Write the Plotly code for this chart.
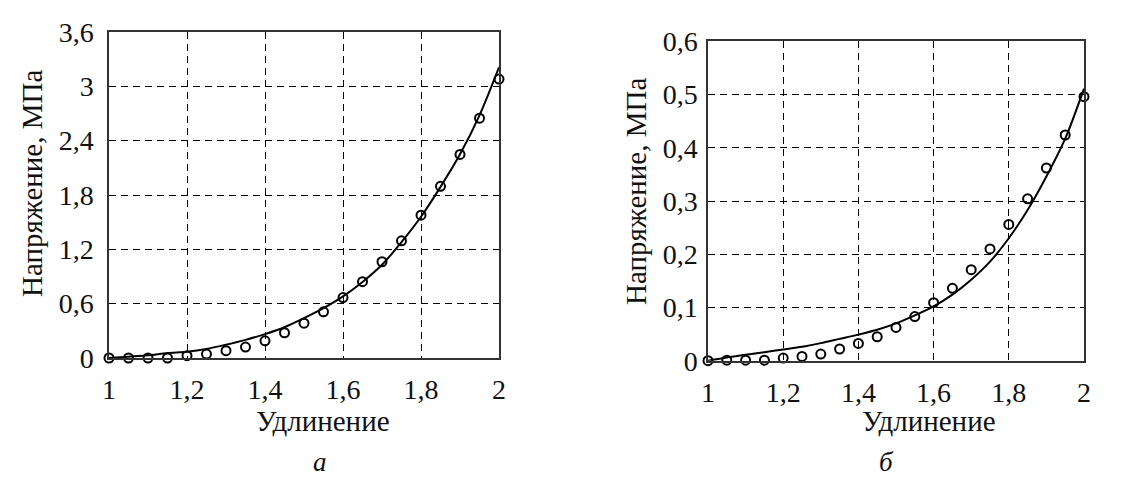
import plotly.graph_objects as go

# ---------- data ----------
elong = [1.00, 1.05, 1.10, 1.15, 1.20, 1.25, 1.30, 1.35, 1.40, 1.45, 1.50,
         1.55, 1.60, 1.65, 1.70, 1.75, 1.80, 1.85, 1.90, 1.95, 2.00]

# panel a
stress_a_exp = [0.0, 0.0, 0.0, 0.0, 0.026, 0.044, 0.081, 0.121, 0.19, 0.279, 0.385,
                0.51, 0.667, 0.843, 1.063, 1.294, 1.577, 1.896, 2.248, 2.648, 3.08]
stress_a_fit = [0.0, 0.015, 0.03, 0.055, 0.07, 0.10, 0.147, 0.20, 0.264, 0.34, 0.44,
                0.55, 0.68, 0.84, 1.03, 1.28, 1.56, 1.89, 2.25, 2.68, 3.21]

# panel b
stress_b_exp = [0.0, 0.001, 0.001, 0.001, 0.005, 0.008, 0.0125, 0.022, 0.0325, 0.045, 0.0625,
                0.083, 0.109, 0.136, 0.171, 0.21, 0.256, 0.304, 0.362, 0.424, 0.496]
stress_b_fit = [0.0, 0.006, 0.011, 0.016, 0.021, 0.026, 0.033, 0.041, 0.049, 0.058, 0.07,
                0.085, 0.102, 0.124, 0.152, 0.186, 0.23, 0.283, 0.346, 0.417, 0.511]

x_ticks = [1, 1.2, 1.4, 1.6, 1.8, 2]
x_ticktext = ["1", "1,2", "1,4", "1,6", "1,8", "2"]
ya_ticks = [0, 0.6, 1.2, 1.8, 2.4, 3, 3.6]
ya_ticktext = ["0", "0,6", "1,2", "1,8", "2,4", "3", "3,6"]
yb_ticks = [0, 0.1, 0.2, 0.3, 0.4, 0.5, 0.6]
yb_ticktext = ["0", "0,1", "0,2", "0,3", "0,4", "0,5", "0,6"]

FONT = "Liberation Serif"
W, H = 1123, 477

fig = go.Figure()

for xa, ya, fit, exp in (("x", "y", stress_a_fit, stress_a_exp),
                         ("x2", "y2", stress_b_fit, stress_b_exp)):
    fig.add_trace(go.Scatter(
        x=elong, y=fit, xaxis=xa, yaxis=ya, mode="lines",
        line=dict(color="black", width=2, shape="spline", smoothing=0.8),
        cliponaxis=False, showlegend=False,
    ))
    fig.add_trace(go.Scatter(
        x=elong, y=exp, xaxis=xa, yaxis=ya, mode="markers",
        marker=dict(symbol="circle-open", size=9, color="black",
                    line=dict(color="black", width=2)),
        cliponaxis=False, showlegend=False,
    ))

axis_common = dict(
    showgrid=True, gridcolor="black", griddash="7px,5px", gridwidth=1,
    zeroline=False, showline=True, linecolor="#333", linewidth=1.5,
    mirror=True, ticks="", automargin=False,
    tickfont=dict(family=FONT, size=28, color="#111"),
)

def px_x(p):
    return p / W

def px_y(p):
    return 1 - p / H

fig.update_layout(
    template="none",
    width=W, height=H,
    margin=dict(l=0, r=0, t=0, b=0),
    paper_bgcolor="white", plot_bgcolor="white",
    font=dict(family=FONT),
    xaxis=dict(axis_common, domain=[px_x(101), px_x(491)], range=[1, 2],
               tickvals=x_ticks, ticktext=x_ticktext, anchor="y",
               ticklabelstandoff=6),
    yaxis=dict(axis_common, domain=[px_y(350), px_y(24)], range=[0, 3.6],
               tickvals=ya_ticks, ticktext=ya_ticktext, anchor="x",
               ticklabelstandoff=8),
    xaxis2=dict(axis_common, domain=[px_x(700), px_x(1076)], range=[1, 2],
                tickvals=x_ticks, ticktext=x_ticktext, anchor="y2",
                ticklabelstandoff=6),
    yaxis2=dict(axis_common, domain=[px_y(352.7), px_y(33.3)], range=[0, 0.6],
                tickvals=yb_ticks, ticktext=yb_ticktext, anchor="x2",
                ticklabelstandoff=3),
)

labels = [
    ("Удлинение", 315, 413, 0, False, 29),
    ("Удлинение", 921, 413, 0, False, 29),
    ("Напряжение, МПа", 24, 176, -90, False, 29),
    ("Напряжение, МПа", 628, 184, -90, False, 29),
    ("а", 312, 454, 0, True, 27),
    ("б", 878, 454, 0, True, 27),
]
for text, x, y, ang, ital, size in labels:
    fig.add_annotation(
        text=f"<i>{text}</i>" if ital else text,
        xref="paper", yref="paper", x=px_x(x), y=px_y(y),
        xanchor="center", yanchor="middle", showarrow=False, textangle=ang,
        font=dict(family=FONT, size=size, color="#111"),
    )

fig.write_html("out.html")
